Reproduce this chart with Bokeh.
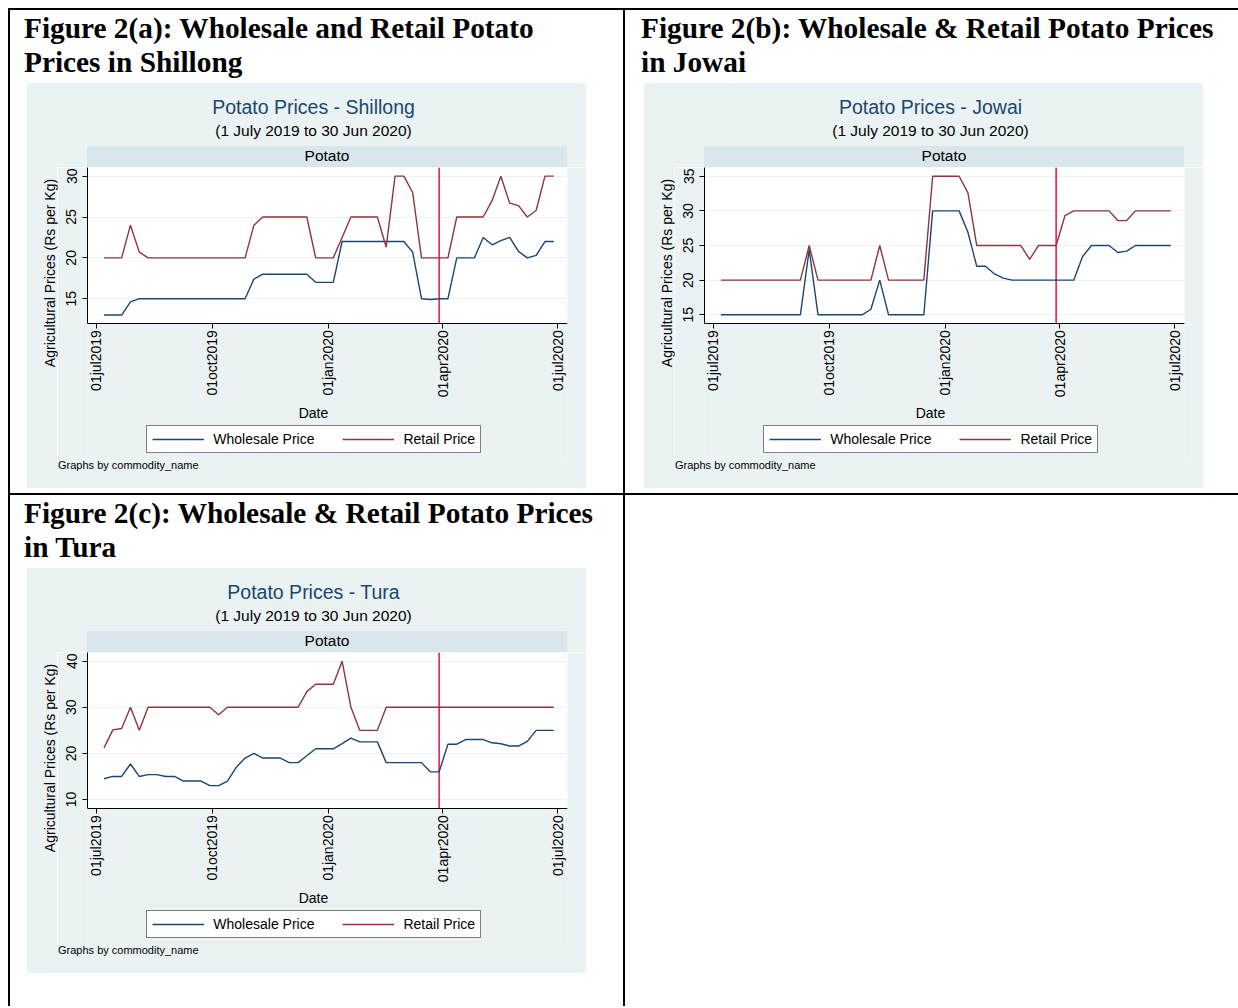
import math
import pandas as pd
from bokeh.plotting import figure
from bokeh.models import (ColumnDataSource, Range1d, FixedTicker, Legend, LegendItem,
                          Label, Div, Spacer)
from bokeh.layouts import row, column
from bokeh.embed import file_html
from bokeh.resources import INLINE

# ---------------------------------------------------------------- data
# weekly observations (Sundays), 7 Jul 2019 to 28 Jun 2020
first_week = "2019-07-07"
n_weeks = 52
dates = pd.date_range(first_week, periods=n_weeks, freq="7D")

axis_origin = pd.Timestamp("2019-07-01")
tick_dates = ["2019-07-01", "2019-10-01", "2020-01-01", "2020-04-01", "2020-07-01"]
tick_labels = ["01jul2019", "01oct2019", "01jan2020", "01apr2020", "01jul2020"]
lockdown_date = "2020-03-29"

shillong_wholesale = [13, 13, 13, 14.6, 15, 15, 15, 15, 15, 15, 15, 15, 15, 15, 15, 15, 15,
                      17.4, 18, 18, 18, 18, 18, 18, 17, 17, 17, 22, 22, 22, 22, 22, 22, 22,
                      22, 20.7, 15, 14.9, 15, 15, 20, 20, 20, 22.5, 21.6, 22.1, 22.5, 20.8,
                      20, 20.3, 22, 22]
shillong_retail = [20, 20, 20, 24, 20.7, 20, 20, 20, 20, 20, 20, 20, 20, 20, 20, 20, 20,
                   24, 25, 25, 25, 25, 25, 25, 20, 20, 20, 22.5, 25, 25, 25, 25, 21.3, 30,
                   30, 28, 20, 20, 20, 20, 25, 25, 25, 25, 27, 30, 26.7, 26.4, 25, 25.8,
                   30, 30]

jowai_wholesale = [15, 15, 15, 15, 15, 15, 15, 15, 15, 15, 24.4, 15, 15, 15, 15, 15, 15,
                   15.8, 20, 15, 15, 15, 15, 15, 30, 30, 30, 30, 26.9, 22, 22, 20.9, 20.3,
                   20, 20, 20, 20, 20, 20, 20, 20, 23.4, 25, 25, 25, 24, 24.2, 25, 25, 25,
                   25, 25]
jowai_retail = [20, 20, 20, 20, 20, 20, 20, 20, 20, 20, 25, 20, 20, 20, 20, 20, 20, 20, 25,
                20, 20, 20, 20, 20, 35, 35, 35, 35, 32.6, 25, 25, 25, 25, 25, 25, 23, 25,
                25, 25, 29.3, 30, 30, 30, 30, 30, 28.6, 28.6, 30, 30, 30, 30, 30]

tura_wholesale = [14.5, 15, 15, 17.7, 15, 15.4, 15.4, 15, 15, 14, 14, 14, 13, 13, 14, 17,
                  19, 20, 19, 19, 19, 18, 18, 19.5, 21, 21, 21, 22.1, 23.3, 22.5, 22.5,
                  22.5, 18, 18, 18, 18, 18, 16, 16, 22, 22, 23, 23, 23, 22.3, 22.1, 21.6,
                  21.6, 22.6, 25, 25, 25]
tura_retail = [21.2, 25.1, 25.4, 30, 25, 30, 30, 30, 30, 30, 30, 30, 30, 28.4, 30, 30, 30,
               30, 30, 30, 30, 30, 30, 33.4, 35, 35, 35, 40, 30, 25, 25, 25, 30, 30, 30, 30,
               30, 30, 30, 30, 30, 30, 30, 30, 30, 30, 30, 30, 30, 30, 30, 30]

# ---------------------------------------------------------------- style
PANEL_BG = "#EAF2F3"
STRIP_BG = "#D9E6EB"
NAVY = "#1A476F"
MAROON = "#90353B"
MARKER_RED = "#E0153F"
SANS = "Liberation Sans"
SERIF = "Liberation Serif"

PANEL_W, PANEL_H = 559, 405
HEAD_H, STRIP_H = 63, 21
YLAB_W = 30
FIG_W, FIG_H = PANEL_W - YLAB_W, 293      # figure holds plot band, x axis, legend
PLOT_H = 155.7                            # height of the white plotting band
NOTE_H = PANEL_H - HEAD_H - STRIP_H - FIG_H
X_LO, X_HI = -7.1, 373.9                  # days relative to 1 Jul 2019


def day_offset(d):
    return float((pd.Timestamp(d) - axis_origin).days)


week_x = [day_offset(d) for d in dates]
tick_x = [day_offset(d) for d in tick_dates]
marker_x = day_offset(lockdown_date)


def price_figure(wholesale, retail, y_lo, y_hi, y_ticks):
    px_per_unit = PLOT_H / (y_hi - y_lo)
    px_per_day = (FIG_W - 30 - 19) / (X_HI - X_LO)
    frame_lo = y_lo - (FIG_H - PLOT_H) / px_per_unit

    src = ColumnDataSource(dict(x=week_x, wholesale=wholesale, retail=retail))
    p = figure(width=FIG_W, height=FIG_H, title=None,
               x_range=Range1d(X_LO, X_HI), y_range=Range1d(frame_lo, y_hi),
               output_backend="svg", toolbar_location=None,
               min_border_left=30, min_border_right=19, min_border_top=0,
               min_border_bottom=0, border_fill_color=PANEL_BG,
               background_fill_color=PANEL_BG, outline_line_color=None)

    # white plotting band behind the series
    p.quad(left=X_LO, right=X_HI, bottom=y_lo, top=y_hi, fill_color="white",
           line_color=None, level="image")
    # national lockdown marker
    p.segment(x0=[marker_x], y0=[y_lo], x1=[marker_x], y1=[y_hi],
              line_color=MARKER_RED, line_width=1.5)
    r_w = p.line("x", "wholesale", source=src, line_color=NAVY, line_width=1.4)
    r_r = p.line("x", "retail", source=src, line_color=MAROON, line_width=1.4)

    xa = p.xaxis[0]
    xa.fixed_location = y_lo
    xa.ticker = FixedTicker(ticks=tick_x)
    xa.major_label_overrides = {t: lab for t, lab in zip(tick_x, tick_labels)}
    xa.major_label_orientation = math.pi / 2
    xa.major_label_standoff = 2
    ya = p.yaxis[0]
    ya.bounds = (y_lo, y_hi)
    ya.ticker = FixedTicker(ticks=y_ticks)
    ya.major_label_orientation = "vertical"
    ya.major_label_standoff = 6
    for ax in (xa, ya):
        ax.major_tick_out = 5
        ax.major_tick_in = 0
        ax.minor_tick_out = 0
        ax.minor_tick_in = 0
        ax.axis_line_color = "black"
        ax.major_tick_line_color = "black"
        ax.major_label_text_font = SANS
        ax.major_label_text_font_size = "14px"
        ax.major_label_text_color = "black"

    p.xgrid.visible = False
    p.ygrid.grid_line_color = PANEL_BG
    p.ygrid.grid_line_width = 1

    p.add_layout(Label(x=(X_LO + X_HI) / 2 - 14 / px_per_day,
                       y=y_lo - 89.5 / px_per_unit, text="Date",
                       text_align="center", text_baseline="alphabetic",
                       text_font=SANS, text_font_size="14px", text_color="black"))

    legend = Legend(items=[LegendItem(label="Wholesale Price", renderers=[r_w]),
                           LegendItem(label="Retail Price", renderers=[r_r])],
                    orientation="horizontal", location=(59.3, 7.5), margin=0,
                    padding=5, spacing=28, glyph_width=52, glyph_height=14,
                    label_height=14, label_standoff=9, label_text_font=SANS,
                    label_text_font_size="14px", label_text_color="black",
                    border_line_color="black", border_line_width=1,
                    background_fill_color="white", background_fill_alpha=1)
    p.add_layout(legend)
    return p


def filler(w, h, color):
    return Div(text="", width=w, height=h, margin=0,
               styles={"background-color": color})


def price_panel(place, wholesale, retail, y_lo, y_hi, y_ticks):
    head = Div(text=(
        f'<div style="position:relative;width:{PANEL_W}px;height:{HEAD_H}px;'
        f'font-family:\'{SANS}\'">'
        f'<div style="position:absolute;left:14px;top:13px;width:545px;text-align:center;'
        f'font-size:19.5px;line-height:22px;color:{NAVY};white-space:nowrap">'
        f'Potato Prices - {place}</div>'
        f'<div style="position:absolute;left:14px;top:37px;width:545px;text-align:center;'
        f'font-size:15.5px;line-height:22px;color:#000;white-space:nowrap">'
        f'(1 July 2019 to 30 Jun 2020)</div></div>'),
        width=PANEL_W, height=HEAD_H, margin=0, styles={"background-color": PANEL_BG})
    strip = Div(text=(
        f'<div style="width:480px;height:{STRIP_H}px;text-align:center;'
        f'font-family:\'{SANS}\';font-size:15.5px;line-height:19px;color:#000">Potato</div>'),
        width=480, height=STRIP_H, margin=0, styles={"background-color": STRIP_BG})
    strip_row = row(filler(60, STRIP_H, PANEL_BG), strip, filler(19, STRIP_H, PANEL_BG),
                    margin=0)
    ylab = Div(text=(
        f'<div style="position:relative;width:{YLAB_W}px;height:{FIG_H}px">'
        f'<div style="position:absolute;left:22.5px;top:105.8px;white-space:nowrap;'
        f'transform:translate(-50%,-50%) rotate(-90deg);font-family:\'{SANS}\';'
        f'font-size:14px;line-height:16px;color:#000">Agricultural Prices (Rs per Kg)</div>'
        f'</div>'),
        width=YLAB_W, height=FIG_H, margin=0, styles={"background-color": PANEL_BG})
    fig = price_figure(wholesale, retail, y_lo, y_hi, y_ticks)
    note = Div(text=(
        f'<div style="position:relative;width:{PANEL_W}px;height:{NOTE_H}px">'
        f'<div style="position:absolute;left:31px;top:-1px;white-space:nowrap;'
        f'font-family:\'{SANS}\';font-size:11px;line-height:12px;color:#000">'
        f'Graphs by commodity_name</div></div>'),
        width=PANEL_W, height=NOTE_H, margin=0, styles={"background-color": PANEL_BG})
    return column(head, strip_row, row(ylab, fig, margin=0), note, margin=0)


def heading(lines, pad_left):
    html = (f'<div style="padding:1px 0 0 {pad_left}px;font-family:\'{SERIF}\';'
            f'font-weight:bold;font-size:29.33px;line-height:34px;color:#000;'
            f'white-space:nowrap">' + "<br>".join(lines) + '</div>')
    return Div(text=html, width=613, height=73, margin=0)


def rule(w, h):
    return filler(w, h, "#000")


cell_a = column(
    heading(["Figure 2(a): Wholesale and Retail Potato", "Prices in Shillong"], 14),
    row(Spacer(width=17, height=PANEL_H, margin=0),
        price_panel("Shillong", shillong_wholesale, shillong_retail, 12.0, 31.06,
                    [15, 20, 25, 30]), margin=0),
    Spacer(width=613, height=5, margin=0), margin=0)

cell_b = column(
    heading(["Figure 2(b): Wholesale & Retail Potato Prices", "in Jowai"], 16),
    row(Spacer(width=19, height=PANEL_H, margin=0),
        price_panel("Jowai", jowai_wholesale, jowai_retail, 13.79, 36.26,
                    [15, 20, 25, 30, 35]), margin=0),
    Spacer(width=613, height=5, margin=0), margin=0)

cell_c = column(
    heading(["Figure 2(c): Wholesale & Retail Potato Prices", "in Tura"], 14),
    row(Spacer(width=17, height=PANEL_H, margin=0),
        price_panel("Tura", tura_wholesale, tura_retail, 8.11, 41.89,
                    [10, 20, 30, 40]), margin=0),
    Spacer(width=613, height=33, margin=0), margin=0)

page = column(
    Spacer(width=1238, height=8, margin=0),
    row(Spacer(width=8, height=2, margin=0), rule(1230, 2), margin=0),
    row(Spacer(width=8, height=483, margin=0), rule(2, 483), cell_a, rule(2, 483), cell_b,
        margin=0),
    row(Spacer(width=8, height=2, margin=0), rule(1230, 2), margin=0),
    row(Spacer(width=8, height=511, margin=0), rule(2, 511), cell_c, rule(2, 511),
        Spacer(width=613, height=511, margin=0), margin=0),
    margin=0)

open("out.html", "w").write(file_html(page, INLINE, title="Potato prices - Meghalaya"))
